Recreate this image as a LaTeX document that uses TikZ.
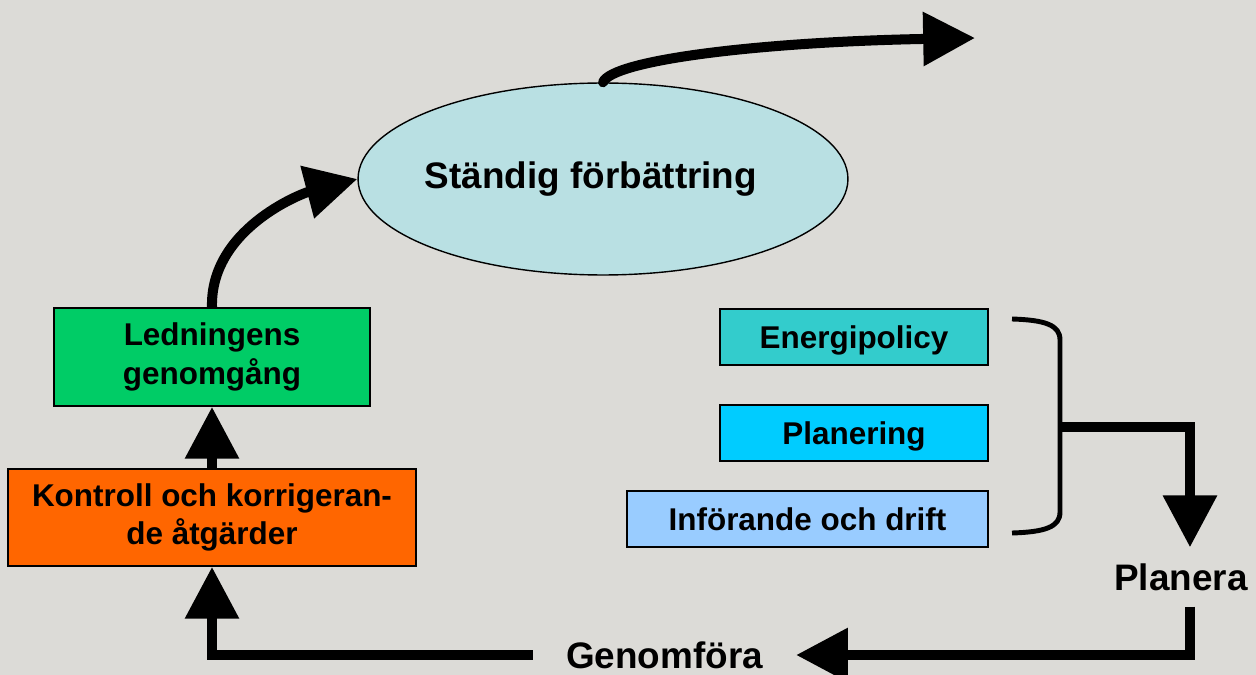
\documentclass[tikz,border=0pt]{standalone}
\usepackage{fontspec}
\setmainfont{Liberation Sans}
\usetikzlibrary{arrows.meta,shapes.geometric}
\definecolor{bggray}{RGB}{220,219,215}
\definecolor{ellcyan}{RGB}{185,224,227}
\definecolor{ledgreen}{RGB}{0,204,102}
\definecolor{konorange}{RGB}{255,102,0}
\definecolor{eneteal}{RGB}{51,204,204}
\definecolor{plablue}{RGB}{0,204,255}
\definecolor{infblue}{RGB}{153,204,255}

\begin{document}
\begin{tikzpicture}[x=0.02cm,y=-0.02cm,
    box/.style={draw,line width=1pt,inner sep=0pt,align=center,
      font=\fontsize{17.9}{22}\selectfont\bfseries},
    smallbox/.style={box,minimum height=1.12cm,text height=13pt,text depth=0pt},
    bigtext/.style={font=\fontsize{21}{24}\selectfont\bfseries},
    bigarrow/.style={line width=5.7pt,-{Triangle[length=29.5pt,width=29.5pt]}}]
    \fill[bggray] (0,0) rectangle (1256,675);
    \useasboundingbox (0,0) rectangle (1256,675);
    \node[ellipse,draw,line width=.8pt,fill=ellcyan,minimum width=9.8cm,minimum height=3.84cm,bigtext] (ell) at (603,179) {\makebox[0pt]{\hspace*{-0.48cm}Ständig förbättring}};
    \node[box,fill=ledgreen,minimum width=6.32cm,minimum height=1.96cm] (led) at (212,357) {Ledningens\\genomgång};
    \node[box,fill=konorange,minimum width=8.16cm,minimum height=1.94cm] (kon) at (212,517.5) {Kontroll och korrigeran-\\de åtgärder};
    \node[smallbox,fill=eneteal,minimum width=5.36cm] (ene) at (854,337) {Energipolicy};
    \node[smallbox,fill=plablue,minimum width=5.36cm] (pla) at (854,433) {Planering};
    \node[smallbox,fill=infblue,minimum width=7.22cm] (inf) at (807.5,519) {Införande och drift};
    \node[bigtext,inner ysep=9pt] (plan) at (1181,577) {Planera};
    \node[bigtext,inner xsep=18.7pt,inner ysep=2pt] (gen) at (664.5,655) {Genomföra};
    \coordinate (goal) at (975,38);
    \coordinate (brace) at (1060,427);
    \draw[line width=2.8pt] (1012,319) .. controls (1045,320) and (1060,325) .. (1060,340) -- (1060,512) .. controls (1060,527) and (1045,532) .. (1012,533);
    \draw[bigarrow] (brace) -| ([xshift=5.1pt]plan.north);
    \draw[bigarrow] ([xshift=5.1pt]plan.south) |- (gen.east);
    \draw[bigarrow] (gen.west) -| (kon.south);
    \draw[bigarrow] (kon.north) -- (led.south);
    \draw[bigarrow] (led.north) .. controls (210,230) and (300,194) .. (ell.west);
    \draw[bigarrow,line cap=round] (ell.north) .. controls (612,60) and (760,42) .. (goal);
  \end{tikzpicture}
\end{document}
